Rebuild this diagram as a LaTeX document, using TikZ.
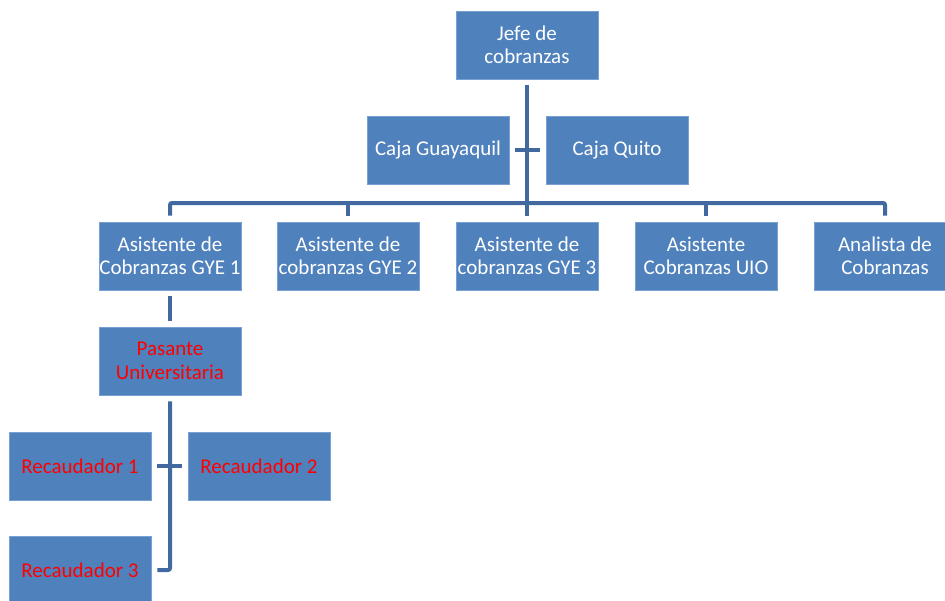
\documentclass[tikz,border=0pt]{standalone}
\usepackage{fontspec}
\setmainfont{Carlito}
\definecolor{boxfill}{RGB}{79,129,189}
\definecolor{boxline}{RGB}{120,160,210}
\definecolor{conncol}{RGB}{65,105,160}
\begin{document}
\begin{tikzpicture}[x=1pt,y=-1pt,
  box/.style={draw=boxline, line width=0.6pt, fill=boxfill, minimum width=142pt, minimum height=68pt,
    inner xsep=0pt, inner ysep=2pt, align=center, font=\fontsize{21}{23.5}\selectfont, text=white},
  redbox/.style={box, text=red},
  conn/.style={draw=conncol, line width=4pt, rounded corners=2pt}]
\clip (0,0) rectangle (945,600);
\fill[white] (0,0) rectangle (945,600);
\node[box] (jefe) at (527,45) {Jefe de\\cobranzas};
\node[box] (cg) at (438,150) {Caja Guayaquil};
\node[box] (cq) at (617,150) {Caja Quito};
\node[box] (g1) at (170,256) {Asistente de\\Cobranzas GYE 1};
\node[box] (g2) at (348,256) {Asistente de\\cobranzas GYE 2};
\node[box] (g3) at (527,256) {Asistente de\\cobranzas GYE 3};
\node[box] (uio) at (706,256) {Asistente\\Cobranzas UIO};
\node[box] (ana) at (885,256) {Analista de\\Cobranzas};
\node[redbox] (pas) at (170,361) {Pasante\\Universitaria};
\node[redbox] (r1) at (80,466) {Recaudador 1};
\node[redbox] (r2) at (259,466) {Recaudador 2};
\node[redbox] (r3) at (80,570) {Recaudador 3};
\coordinate (bar) at (527,203);
\draw[conn] ([yshift=-6pt]jefe.south) -- ([yshift=6pt]g3.north);
\draw[conn] ([xshift=6pt]cg.east) -- ([xshift=-6pt]cq.west);
\draw[conn] ([yshift=6pt]g1.north) -- (g1.north |- bar) -- (ana.north |- bar) -- ([yshift=6pt]ana.north);
\draw[conn] ([yshift=6pt]g2.north) -- (g2.north |- bar);
\draw[conn] ([yshift=6pt]uio.north) -- (uio.north |- bar);
\draw[conn] ([yshift=-6pt]g1.south) -- ([yshift=6pt]pas.north);
\draw[conn] ([yshift=-6pt]pas.south) -- (pas.south |- r3.east) -- ([xshift=6pt]r3.east);
\draw[conn] ([xshift=6pt]r1.east) -- ([xshift=-6pt]r2.west);
\end{tikzpicture}
\end{document}
